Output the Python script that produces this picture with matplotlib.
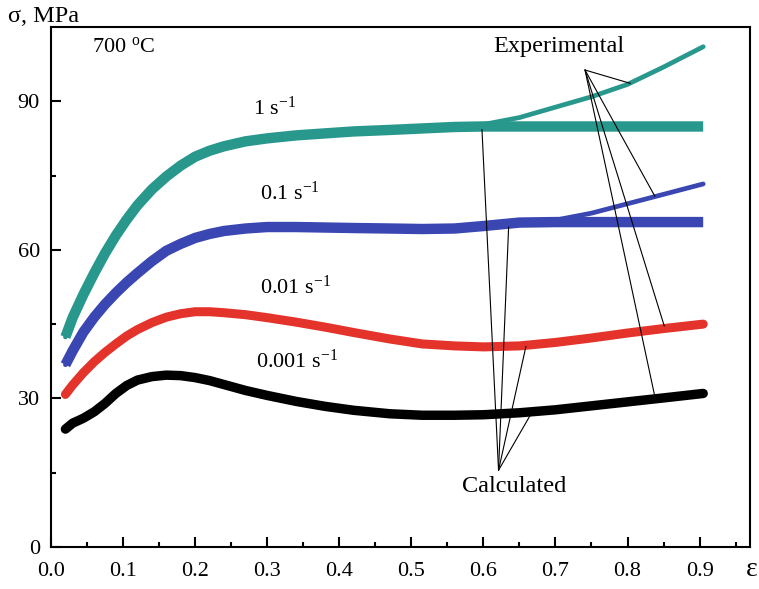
import matplotlib.pyplot as plt

plt.rcParams['font.family'] = 'Liberation Serif'
plt.rcParams['mathtext.fontset'] = 'custom'
plt.rcParams['mathtext.rm'] = 'Liberation Serif'
plt.rcParams['mathtext.it'] = 'Liberation Serif:italic'

# strain values
eps = [0.02, 0.03, 0.045, 0.06, 0.075, 0.09, 0.105, 0.12, 0.14, 0.16, 0.18, 0.20,
       0.22, 0.24, 0.27, 0.30, 0.34, 0.38, 0.42, 0.47, 0.515, 0.56, 0.60, 0.65,
       0.70, 0.75, 0.80, 0.85, 0.905]

# 1 s^-1
teal_calc = [42.4, 46.3, 51.0, 55.3, 59.3, 62.9, 66.1, 69.0, 72.2, 74.8, 77.0, 78.8,
             80.0, 80.9, 81.9, 82.5, 83.1, 83.5, 83.9, 84.2, 84.5, 84.8, 84.9, 84.9,
             84.9, 84.9, 84.9, 84.9, 84.9]
teal_exp = [42.4, 46.3, 51.0, 55.3, 59.3, 62.9, 66.1, 69.0, 72.2, 74.8, 77.0, 78.8,
            80.0, 80.9, 81.9, 82.5, 83.1, 83.5, 83.9, 84.2, 84.5, 84.8, 85.3, 86.7,
            88.8, 90.9, 93.4, 96.9, 101.0]

# 0.1 s^-1
blue_calc = [36.8, 39.6, 43.4, 46.4, 49.0, 51.3, 53.4, 55.3, 57.7, 59.8, 61.2, 62.4,
             63.2, 63.8, 64.3, 64.6, 64.6, 64.5, 64.4, 64.3, 64.2, 64.3, 64.8, 65.5,
             65.6, 65.6, 65.6, 65.6, 65.6]
blue_exp = [36.8, 39.6, 43.4, 46.4, 49.0, 51.3, 53.4, 55.3, 57.7, 59.8, 61.2, 62.4,
            63.2, 63.8, 64.3, 64.6, 64.6, 64.5, 64.4, 64.3, 64.2, 64.3, 64.7, 65.4,
            66.0, 67.4, 69.3, 71.2, 73.3]

# 0.01 s^-1
red = [30.8, 32.7, 35.2, 37.4, 39.3, 41.0, 42.6, 43.9, 45.3, 46.4, 47.1, 47.5,
       47.5, 47.3, 46.9, 46.3, 45.4, 44.4, 43.3, 42.0, 41.0, 40.6, 40.4, 40.6,
       41.3, 42.2, 43.2, 44.1, 45.0]

# 0.001 s^-1
black = [23.8, 25.0, 26.0, 27.3, 29.0, 31.0, 32.6, 33.7, 34.4, 34.7, 34.6, 34.2,
         33.6, 32.8, 31.6, 30.6, 29.4, 28.4, 27.6, 26.9, 26.6, 26.6, 26.7, 27.1,
         27.7, 28.5, 29.3, 30.1, 31.0]

teal = '#28988d'
blue = '#3a46b2'
redc = '#e3332b'

fig = plt.figure(figsize=(7.59, 5.89), dpi=100)
ax = fig.add_axes([0.0672, 0.0713, 0.921, 0.883])

# calculated: thick bands, experimental: thinner lines on top
ax.plot(eps, teal_calc, color=teal, lw=7.5, solid_capstyle='butt')
ax.plot(eps, teal_exp, color=teal, lw=3.4, solid_capstyle='round')
ax.plot(eps, blue_calc, color=blue, lw=7.5, solid_capstyle='butt')
ax.plot(eps, blue_exp, color=blue, lw=3.4, solid_capstyle='round')
ax.plot(eps, red, color=redc, lw=6.5, solid_capstyle='round')
ax.plot(eps, black, color='k', lw=6.8, solid_capstyle='round')

ax.set_xlim(0, 0.97)
ax.set_ylim(0, 105)
ax.set_xticks([0.0, 0.1, 0.2, 0.3, 0.4, 0.5, 0.6, 0.7, 0.8, 0.9])
ax.set_xticks([0.05, 0.15, 0.25, 0.35, 0.45, 0.55, 0.65, 0.75, 0.85, 0.95], minor=True)
ax.set_yticks([0, 30, 60, 90])
ax.set_yticks([15, 45, 75], minor=True)
ax.set_xticklabels(['0.0', '0.1', '0.2', '0.3', '0.4', '0.5', '0.6', '0.7', '0.8', '0.9'])
ax.tick_params(which='major', direction='in', length=7, width=1.5, labelsize=16, pad=8)
ax.tick_params(axis='x', which='major', pad=11)
ax.tick_params(which='minor', direction='in', length=3.5, width=1.5)
for s in ax.spines.values():
    s.set_linewidth(1.5)

fs = 16
ax.text(0.057, 101, '700 $^{\\mathrm{o}}$C', fontsize=fs, va='center')
ax.text(0.28, 88.5, '1 s$^{\\mathrm{-1}}$', fontsize=fs, va='center')
ax.text(0.29, 71.5, '0.1 s$^{\\mathrm{-1}}$', fontsize=fs, va='center')
ax.text(0.29, 52.5, '0.01 s$^{\\mathrm{-1}}$', fontsize=fs, va='center')
ax.text(0.285, 37.5, '0.001 s$^{\\mathrm{-1}}$', fontsize=fs, va='center')

ax.text(0.705, 101, 'Experimental', fontsize=17.5, ha='center', va='center')
for xy in [(0.804, 93.6), (0.838, 70.8), (0.851, 44.6), (0.838, 30.3)]:
    ax.annotate('', xy=xy, xytext=(0.741, 96.3),
                arrowprops=dict(arrowstyle='-', color='k', lw=0.8, shrinkA=0, shrinkB=0))

ax.text(0.643, 12.3, 'Calculated', fontsize=17.5, ha='center', va='center')
for xy in [(0.598, 84.3), (0.635, 64.6), (0.659, 40.5), (0.665, 26.6)]:
    ax.annotate('', xy=xy, xytext=(0.621, 15.5),
                arrowprops=dict(arrowstyle='-', color='k', lw=0.8, shrinkA=0, shrinkB=0))

fig.text(0.01, 0.972, 'σ, MPa', fontsize=17.5, va='center')
fig.text(0.99, 0.033, 'ε', fontsize=20, va='center', ha='center')

fig.savefig('out.png', dpi=100)
